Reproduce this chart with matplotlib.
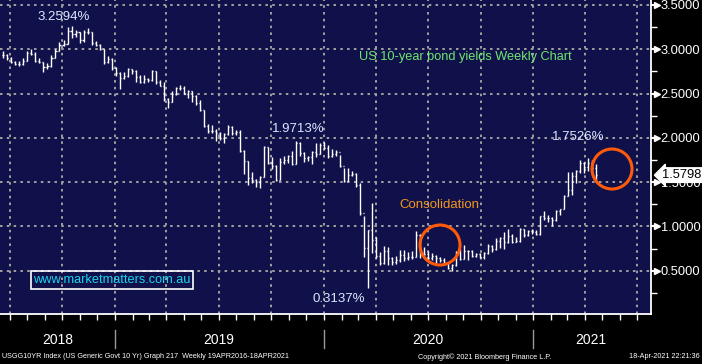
import numpy as np
import pandas as pd
import matplotlib
matplotlib.use('Agg')
import matplotlib.pyplot as plt
import matplotlib.dates as mdates
import matplotlib.transforms as mtransforms
from matplotlib import font_manager
from matplotlib.lines import Line2D
from matplotlib.patches import Circle

# weekly US 10y yields (Fridays, 15 Jun 2018 - 16 Apr 2021)
dates = pd.date_range('2018-06-15', '2021-04-16', freq='W-FRI')

close = [2.93, 2.90, 2.86, 2.83, 2.83, 2.87, 2.96, 2.95, 2.87, 2.86,
         2.80, 2.81, 2.90, 2.98, 3.05, 3.06, 3.21, 3.17, 3.19, 3.10,
         3.20, 3.19, 3.07, 3.05, 3.00, 2.86, 2.89, 2.79, 2.73, 2.67,
         2.70, 2.78, 2.76, 2.69, 2.63, 2.66, 2.65, 2.76, 2.63, 2.59,
         2.44, 2.41, 2.50, 2.56, 2.56, 2.50, 2.53, 2.47, 2.39, 2.32,
         2.13, 2.08, 2.08, 2.06, 2.00, 2.04, 2.12, 2.05, 2.07, 1.85,
         1.74, 1.55, 1.52, 1.50, 1.56, 1.90, 1.72, 1.68, 1.53, 1.73,
         1.75, 1.80, 1.71, 1.94, 1.83, 1.77, 1.78, 1.84, 1.82, 1.92,
         1.88, 1.79, 1.82, 1.84, 1.68, 1.51, 1.58, 1.59, 1.47, 1.15,
         0.76, 0.96, 0.85, 0.67, 0.59, 0.72, 0.64, 0.60, 0.62, 0.68,
         0.64, 0.66, 0.65, 0.90, 0.70, 0.69, 0.64, 0.67, 0.64, 0.62,
         0.59, 0.53, 0.56, 0.71, 0.63, 0.72, 0.72, 0.67, 0.69, 0.66,
         0.70, 0.78, 0.74, 0.84, 0.87, 0.82, 0.89, 0.83, 0.84, 0.97,
         0.90, 0.95, 0.94, 0.92, 1.12, 1.09, 1.09, 1.07, 1.17, 1.20,
         1.34, 1.41, 1.57, 1.63, 1.72, 1.67, 1.72, 1.66, 1.58]
high = [2.98, 2.95, 2.91, 2.87, 2.87, 2.90, 2.98, 3.00, 2.97, 2.90,
        2.86, 2.84, 2.93, 3.00, 3.08, 3.10, 3.25, 3.26, 3.22, 3.20,
        3.22, 3.24, 3.19, 3.09, 3.06, 3.00, 2.92, 2.90, 2.80, 2.74,
        2.74, 2.79, 2.78, 2.77, 2.71, 2.71, 2.68, 2.77, 2.76, 2.65,
        2.63, 2.45, 2.53, 2.57, 2.60, 2.58, 2.54, 2.53, 2.48, 2.43,
        2.32, 2.16, 2.15, 2.10, 2.07, 2.06, 2.14, 2.13, 2.09, 2.09,
        1.86, 1.74, 1.62, 1.54, 1.57, 1.91, 1.90, 1.78, 1.69, 1.77,
        1.80, 1.81, 1.85, 1.97, 1.95, 1.84, 1.79, 1.85, 1.94, 1.94,
        1.95, 1.92, 1.87, 1.86, 1.81, 1.66, 1.66, 1.63, 1.60, 1.49,
        1.12, 0.96, 1.27, 0.88, 0.71, 0.78, 0.77, 0.66, 0.67, 0.73,
        0.73, 0.71, 0.72, 0.95, 0.91, 0.77, 0.72, 0.70, 0.68, 0.66,
        0.64, 0.60, 0.58, 0.72, 0.74, 0.79, 0.73, 0.73, 0.70, 0.70,
        0.71, 0.80, 0.79, 0.87, 0.88, 0.94, 0.97, 0.91, 0.88, 0.98,
        0.97, 0.96, 0.97, 0.96, 1.12, 1.18, 1.13, 1.11, 1.19, 1.20,
        1.36, 1.61, 1.62, 1.64, 1.75, 1.73, 1.77, 1.75, 1.70]
low = [2.90, 2.88, 2.84, 2.82, 2.81, 2.82, 2.87, 2.93, 2.86, 2.84,
       2.74, 2.78, 2.80, 2.90, 2.98, 3.04, 3.06, 3.13, 3.14, 3.07,
       3.08, 3.17, 3.05, 3.04, 2.99, 2.83, 2.85, 2.77, 2.70, 2.55,
       2.66, 2.69, 2.72, 2.63, 2.62, 2.62, 2.63, 2.64, 2.61, 2.58,
       2.42, 2.34, 2.40, 2.48, 2.54, 2.49, 2.45, 2.41, 2.37, 2.30,
       2.12, 2.05, 2.06, 1.97, 1.98, 1.94, 2.03, 2.03, 2.03, 1.84,
       1.59, 1.47, 1.49, 1.45, 1.43, 1.56, 1.71, 1.65, 1.51, 1.52,
       1.71, 1.72, 1.69, 1.71, 1.80, 1.73, 1.74, 1.71, 1.78, 1.82,
       1.87, 1.77, 1.78, 1.80, 1.67, 1.50, 1.51, 1.57, 1.45, 1.13,
       0.66, 0.31, 0.70, 0.64, 0.57, 0.58, 0.56, 0.56, 0.58, 0.60,
       0.61, 0.62, 0.63, 0.65, 0.64, 0.67, 0.62, 0.62, 0.57, 0.60,
       0.56, 0.52, 0.50, 0.55, 0.62, 0.63, 0.62, 0.65, 0.66, 0.64,
       0.63, 0.69, 0.71, 0.73, 0.76, 0.74, 0.81, 0.81, 0.82, 0.83,
       0.88, 0.89, 0.91, 0.90, 0.90, 1.07, 1.05, 1.00, 1.06, 1.13,
       1.20, 1.34, 1.35, 1.49, 1.60, 1.60, 1.63, 1.64, 1.53]
open_ = [close[0]] + close[:-1]

yticks = [0.5, 1.0, 1.5, 2.0, 2.5, 3.0, 3.5]
years = ['2018', '2019', '2020', '2021']
last_value = 1.5798

plt.rcParams['font.family'] = ['Liberation Sans', 'DejaVu Sans']
installed = {f.name for f in font_manager.fontManager.ttflist}
if 'Liberation Sans Narrow' in installed:
    foot_family, foot_size = ['Liberation Sans Narrow', 'DejaVu Sans'], 6.3
else:
    foot_family, foot_size = ['Liberation Sans', 'DejaVu Sans'], 5.2

navy = '#10104a'
W, H = 702, 364
fig = plt.figure(figsize=(W / 100, H / 100), dpi=100, facecolor='black')
ax = fig.add_axes([0, 50 / H, 651 / W, 314 / H])
ax.set_facecolor(navy)

# bars drawn a few days right of the week date, like the Bloomberg plot
x = mdates.date2num(dates) + 5
half = 1.8
ax.vlines(x, low, high, color='white', lw=1.0, zorder=3)
ax.hlines(open_, x - half, x, color='white', lw=1.0, zorder=3)
ax.hlines(close, x, x + half, color='white', lw=1.0, zorder=3)

left = mdates.date2num(pd.Timestamp('2019-01-01')) - 115 / 209 * 365.25
right = left + 651 / 209 * 365.25
ax.set_xlim(left, right)
ax.set_ylim(0.012, 3.556)

# grid
grid_kw = dict(color='#a0a0a0', lw=1.4, ls=(0, (1.3, 2.2)), zorder=1)
quarters = pd.date_range('2018-07-01', '2021-07-01', freq='QS')
for q in mdates.date2num(quarters):
    ax.axvline(q, **grid_kw)
for yv in yticks:
    ax.axhline(yv, **grid_kw)

for s in ['top', 'left']:
    ax.spines[s].set_visible(False)
for s in ['right', 'bottom']:
    ax.spines[s].set_color('white')
    ax.spines[s].set_linewidth(1.3)

ax.yaxis.tick_right()
ax.set_yticks(yticks)
ax.set_yticklabels(['%.4f' % v for v in yticks])
ax.set_yticks(np.arange(0.25, 3.56, 0.5), minor=True)
ax.tick_params(axis='y', which='major', colors='white', length=5, width=1.5,
               labelsize=9.3, pad=2)
ax.tick_params(axis='y', which='minor', colors='white', length=4, width=1)
trans = mtransforms.blended_transform_factory(ax.transAxes, ax.transData)
ax.plot([1.009] * len(yticks), yticks, marker='>', ms=4, color='white', ls='none',
        transform=trans, clip_on=False)

months = pd.date_range('2018-07-01', '2021-07-01', freq='MS')
ax.set_xticks(mdates.date2num(months))
ax.set_xticklabels([])
ax.tick_params(axis='x', colors='white', length=4, width=1)

# last value tag
ax.text(1.017, last_value, '%.4f' % last_value, transform=trans, color='black',
        fontsize=9.3, va='center', ha='left', zorder=6,
        bbox=dict(boxstyle='larrow,pad=0.1', fc='white', ec='white'))

# annotations
lbl = '#dce8ff'


def label(txt, xp, yp, **kw):
    ax.annotate(txt, xy=(xp / 651, 1 - yp / 314), xycoords='axes fraction',
                ha='center', va='center', **kw)


label('3.2594%', 64, 17, color=lbl, fontsize=9.5)
label('1.9713%', 298, 129, color=lbl, fontsize=9.5)
label('0.3137%', 339, 299, color=lbl, fontsize=9.5)
label('1.7526%', 578, 137, color=lbl, fontsize=9.5)
label('US 10-year bond yields Weekly Chart', 465, 57, color='#6fe86f', fontsize=9.2)
label('Consolidation', 439, 205, color='#f0961e', fontsize=9.5)
label('www.marketmatters.com.au', 112, 280, color='#19d6f0', fontsize=9.2,
      bbox=dict(boxstyle='square,pad=0.2', fc='none', ec='white', lw=1.2))

for cx, cy in [(440, 245), (612, 169)]:
    c = Circle((cx, H - cy), 20, transform=None, fill=False, ec='#ff5a0a', lw=2.2,
               zorder=5)
    fig.patches.append(c)

# year labels and separators below the axis
for yr, xp in zip(years, [58, 219, 428, 591]):
    fig.text(xp / W, 1 - 340 / H, yr, color='white', fontsize=10,
             ha='center', va='center')
for xp in [115, 324, 533]:
    fig.add_artist(Line2D([xp / W, xp / W], [1 - 330 / H, 1 - 348 / H],
                          color='#9a9a9a', lw=1))

fig.text(2 / W, 1 - 357 / H,
         'USGG10YR Index (US Generic Govt 10 Yr) Graph 217  Weekly 19APR2016-18APR2021',
         color='white', fontsize=foot_size, family=foot_family, ha='left', va='center')
fig.text(485 / W, 1 - 357 / H, 'Copyright\u00a9 2021 Bloomberg Finance L.P.',
         color='white', fontsize=foot_size, family=foot_family, ha='center', va='center')
fig.text(700 / W, 1 - 357 / H, '18-Apr-2021 22:21:36', color='white',
         fontsize=foot_size, family=foot_family, ha='right', va='center')

fig.savefig('out.png', dpi=100, facecolor='black')
